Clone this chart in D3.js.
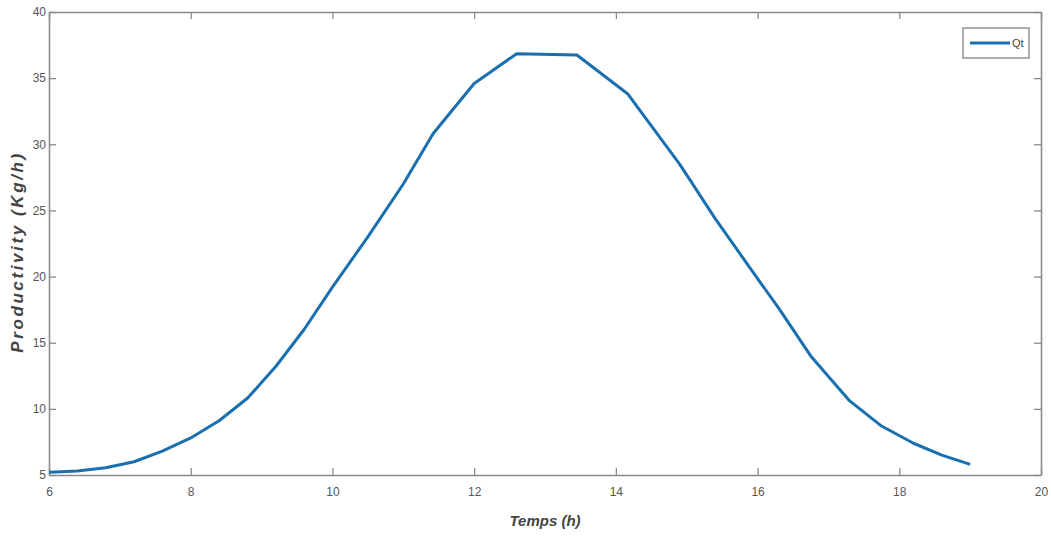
<!DOCTYPE html>
<html>
<head>
<meta charset="utf-8">
<script src="https://cdn.jsdelivr.net/npm/d3@7"></script>
<style>
  html, body { margin: 0; padding: 0; background: #fff; }
  svg { display: block; }
</style>
</head>
<body>
<svg id="chart" width="1051" height="542"></svg>
<script>
// ---- Data ----
const hours = [6.0, 6.4, 6.8, 7.2, 7.6, 8.0, 8.4, 8.8, 9.2, 9.6, 10.0, 10.5, 11.0, 11.42, 12.0, 12.6, 13.45, 14.17, 14.9, 15.4, 15.9, 16.3, 16.75, 17.3, 17.75, 18.2, 18.6, 19.0];
const productivity = [5.2, 5.3, 5.55, 6.0, 6.8, 7.8, 9.1, 10.8, 13.2, 16.0, 19.2, 23.0, 27.0, 30.8, 34.6, 36.85, 36.75, 33.8, 28.5, 24.4, 20.6, 17.6, 14.0, 10.6, 8.7, 7.4, 6.5, 5.8];
const xTicks = [6, 8, 10, 12, 14, 16, 18, 20];
const yTicks = [5, 10, 15, 20, 25, 30, 35, 40];
const seriesName = "Qt";
const xLabel = "Temps (h)";
const yLabel = "Productivity (Kg/h)";

// ---- Layout ----
const svg = d3.select("#chart");
const mLeft = 49, mRight = 1041, mTop = 12, mBottom = 475;
const x = d3.scaleLinear().domain([6, 20]).range([mLeft, mRight]);
const y = d3.scaleLinear().domain([5, 40]).range([mBottom, mTop]);
const axisColor = "#8a8a8a";
const textColor = "#555";
const font = "'Liberation Sans', Arial, sans-serif";

const xAxisB = d3.axisBottom(x).tickValues(xTicks).tickSize(-7).tickSizeOuter(0).tickPadding(12).tickFormat(d3.format("d"));
const yAxisL = d3.axisLeft(y).tickValues(yTicks).tickSize(-7).tickSizeOuter(0).tickPadding(3).tickFormat(d3.format("d"));
const xAxisT = d3.axisTop(x).tickValues(xTicks).tickSize(-7).tickSizeOuter(0).tickFormat("");
const yAxisR = d3.axisRight(y).tickValues(yTicks).tickSize(-7).tickSizeOuter(0).tickFormat("");

function styleAxis(g) {
  g.select(".domain").attr("stroke", axisColor).attr("stroke-width", 1.6);
  g.selectAll(".tick line").attr("stroke", axisColor).attr("stroke-width", 1.3);
  g.selectAll(".tick text").attr("fill", textColor).attr("font-family", font).attr("font-size", 12);
}

svg.append("g").attr("transform", `translate(0,${mBottom})`).call(xAxisB).call(styleAxis);
svg.append("g").attr("transform", `translate(${mLeft},0)`).call(yAxisL).call(styleAxis);
svg.append("g").attr("transform", `translate(0,${mTop})`).call(xAxisT).call(styleAxis);
svg.append("g").attr("transform", `translate(${mRight},0)`).call(yAxisR).call(styleAxis);

// Line
const line = d3.line().x((d, i) => x(hours[i])).y(d => y(d));
svg.append("path")
  .datum(productivity)
  .attr("fill", "none")
  .attr("stroke", "#1a6fae")
  .attr("stroke-width", 3)
  .attr("stroke-linejoin", "round")
  .attr("d", line);

// Axis labels
svg.append("text")
  .attr("x", (mLeft + mRight) / 2)
  .attr("y", 526)
  .attr("text-anchor", "middle")
  .attr("font-family", font)
  .attr("font-size", 15)
  .attr("font-weight", "bold")
  .attr("font-style", "italic")
  .attr("fill", "#444")
  .text(xLabel);

svg.append("text")
  .attr("transform", `translate(23,252) rotate(-90)`)
  .attr("text-anchor", "middle")
  .attr("font-family", font)
  .attr("font-size", 17)
  .attr("font-weight", "bold")
  .attr("font-style", "italic")
  .attr("letter-spacing", 2.6)
  .attr("fill", "#444")
  .text(yLabel);

// Legend
const lg = svg.append("g");
lg.append("rect")
  .attr("x", 963).attr("y", 28).attr("width", 66).attr("height", 30)
  .attr("fill", "#fff").attr("stroke", axisColor).attr("stroke-width", 1.4);
lg.append("line")
  .attr("x1", 970).attr("x2", 1010).attr("y1", 43).attr("y2", 43)
  .attr("stroke", "#1a6fae").attr("stroke-width", 3);
lg.append("text")
  .attr("x", 1012).attr("y", 47)
  .attr("font-family", font).attr("font-size", 11)
  .attr("fill", "#444")
  .text(seriesName);
</script>
</body>
</html>
